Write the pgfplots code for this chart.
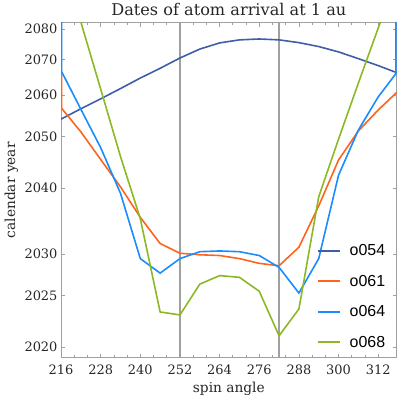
\documentclass[border=0pt]{standalone}
\usepackage{fontspec}
\setmainfont{DejaVu Serif}
\newfontfamily\legendfont{Liberation Sans}
\usepackage{pgfplots}
\pgfplotsset{compat=1.18}
\definecolor{cA}{RGB}{64,94,168}
\definecolor{cB}{RGB}{255,100,30}
\definecolor{cC}{RGB}{25,140,255}
\definecolor{cD}{RGB}{140,185,35}
\definecolor{frame}{RGB}{160,160,160}
\begin{document}
\begin{tikzpicture}
\begin{axis}[
  at={(61bp,49.3bp)}, anchor=south west,
  scale only axis, width=335.7bp, height=335bp,
  xmin=216, xmax=317.6, ymode=log, ymin=19.09, ymax=82.23,
  xtick={216,228,...,312}, minor x tick num=2,
  ytick={20,25,30,40,50,60,70,80},
  yticklabels={2020,2025,2030,2040,2050,2060,2070,2080},
  yminorticks=false,
  tick align=inside,
  major tick length=4bp, minor tick length=2.5bp,
  axis line style={frame, line width=0.7bp},
  tick style={frame, line width=0.7bp},
  ticklabel style={font=\fontsize{13}{13}\selectfont, text=black!85},
  /pgf/number format/assume math mode=true,
  xticklabel style={anchor=base, yshift=-17.3bp},
  xlabel={spin angle}, ylabel={calendar year},
  label style={font=\fontsize{13.8}{13.8}\selectfont, text=black!85},
  xlabel style={at={(axis description cs:0.5,0)}, anchor=base, yshift=-35.3bp},
  ylabel style={at={(axis description cs:-0.137,0.5)}, anchor=base},
  title={Dates of atom arrival at 1 au},
  title style={font=\fontsize{16.2}{16.2}\selectfont, text=black!85, at={(axis description cs:0.5,1)}, anchor=base, yshift=1.7bp},
  legend image code/.code={\draw[#1] (0bp,5bp) -- (22bp,5bp); \path (31bp,5bp);},
  legend image post style={line width=1.8bp, solid},
  legend style={draw=none, fill=none, inner sep=0pt, at={(0.7617,0.338)}, anchor=north west,
    font=\legendfont\fontsize{16}{16}\selectfont, row sep=17.9bp,
    nodes={inner sep=0pt, anchor=base west}},
  legend cell align=left,
  every axis plot/.append style={line width=1.6bp},
]
\addplot[frame, line width=1.3bp, forget plot] coordinates {(252,19.09) (252,82.23)};
\addplot[frame, line width=1.3bp, forget plot] coordinates {(282,19.09) (282,82.23)};

\addplot[cA] coordinates {
(216,54.0) (222,56.5) (228,59.0) (234,61.7) (240,64.6) (246,67.4) (252,70.5)
(258,73.3) (264,75.3) (270,76.3) (276,76.6) (282,76.3) (288,75.4) (294,74.1)
(300,72.4) (306,70.3) (312,68.2) (318,66.0)};
\addlegendentry{o054}

\addplot[cB] coordinates {
(216.2,65.9) (216.2,56.6) (222,51.1) (228,45.3) (234,40.2) (240,35.2) (246,31.4) (252,30.1)
(258,29.9) (264,29.8) (270,29.4) (276,28.8) (282,28.5) (288,30.9) (294,37.0)
(300,45.2) (306,51.3) (312,56.2) (318,61.0)};
\addlegendentry{o061}

\addplot[cC] coordinates {
(216.2,90) (216.2,66.4) (222,56.4) (228,47.7) (234,39.1) (240,29.4) (246,27.6) (252,29.4)
(258,30.3) (264,30.4) (270,30.3) (276,29.8) (282,28.3) (288,25.3) (294,29.4)
(300,42.3) (306,51.5) (312,59.5) (317.4,65.9) (317.4,90)};
\addlegendentry{o064}

\addplot[cD] coordinates {
(216,110) (222,82.5) (228,61.6) (234,45.9) (240,35.0) (246,23.3) (252,23.0)
(258,26.3) (264,27.3) (270,27.1) (276,25.5) (282,21.0) (288,23.6) (294,38.5)
(300,49.5) (306,63.2) (312,80.3) (318,102)};
\addlegendentry{o068}
\end{axis}
\pgfresetboundingbox
\path (0,0) rectangle (399bp,407bp);
\end{tikzpicture}
\end{document}
